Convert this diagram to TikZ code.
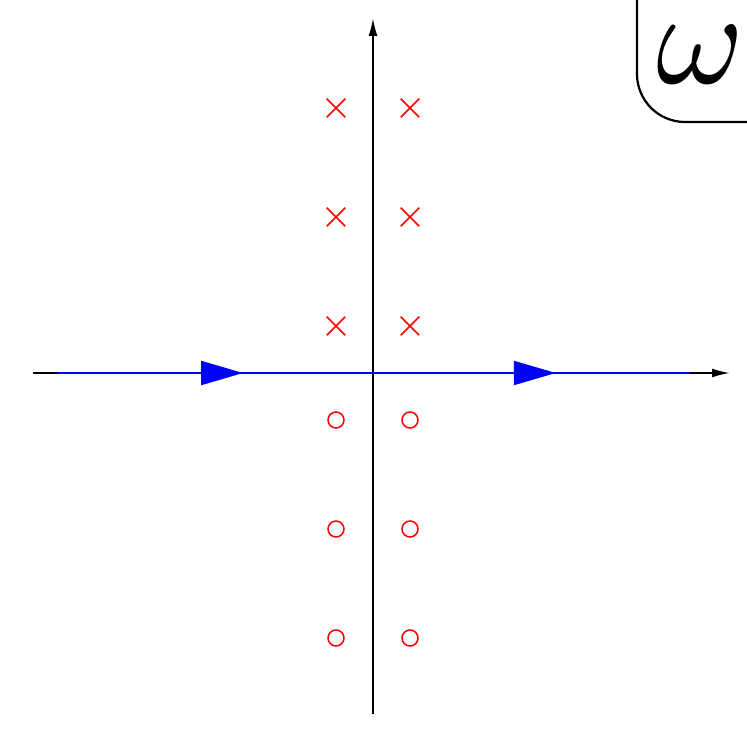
\documentclass[tikz,border=0pt]{standalone}
\usetikzlibrary{arrows.meta, shapes.misc, decorations.markings}

\begin{document}
\begin{tikzpicture}[x=0.1mm, y=0.1mm,
        axis/.style={line width=0.2mm, -{Latex[length=1.8mm, width=0.9mm]}},
        contour/.style={line width=0.2mm, blue, postaction={decorate},
            decoration={markings,
                mark=at position 0.294 with {\arrow{Triangle[length=4.2mm, width=2.4mm]}},
                mark=at position 0.788 with {\arrow{Triangle[length=4.2mm, width=2.4mm]}}}},
        pole/.style={cross out, draw=red, line width=0.15mm, minimum size=1.7mm, inner sep=0pt},
        zero/.style={circle, draw=red, line width=0.15mm, minimum size=1.6mm, inner sep=0pt},
        planebox/.style={line width=0.22mm, rounded corners=4.8mm}
    ]
        \useasboundingbox (-373,-374) rectangle (374,373);
        \clip (-373,-374) rectangle (374,373);

        % axes
        \coordinate (west) at (-340,0);
        \coordinate (east) at (357,0);
        \coordinate (south) at (0,-341);
        \coordinate (north) at (0,355);
        \draw[axis] (west) -- (east);
        \draw[axis] (south) -- (north);

        % integration contour
        \coordinate (cin) at (-316,0);
        \coordinate (cout) at (317,0);
        \draw[contour] (cin) -- (cout);

        % poles above, zeros below
        \foreach \y [count=\i] in {47,156,265} {
            \node[pole] (pl\i) at (-37,\y) {};
            \node[pole] (pr\i) at (37,\y) {};
            \node[zero] (zl\i) at (-37,-\y) {};
            \node[zero] (zr\i) at (37,-\y) {};
        }

        % plane label
        \draw[planebox] (264,420) |- (420,251);
        \node[inner sep=0pt] (freq) at (327,318) {\scalebox{3.8}{$\omega$}};
    \end{tikzpicture}
\end{document}
